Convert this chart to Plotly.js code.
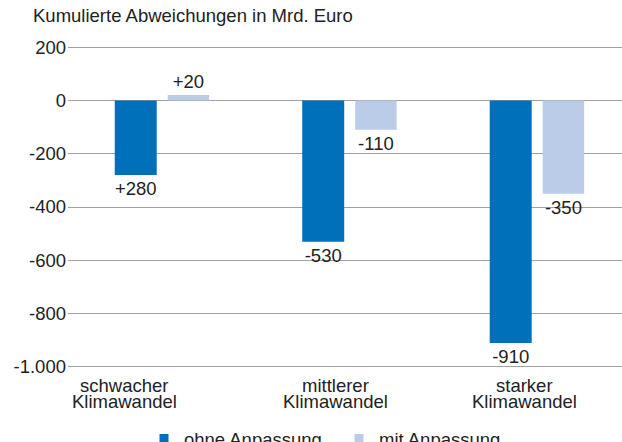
<!DOCTYPE html>
<html>
<head>
<meta charset="utf-8">
<script src="https://cdn.plot.ly/plotly-3.0.1.min.js"></script>
<style>html,body{margin:0;padding:0;background:#fff;}#chart{width:622px;height:442px;}</style>
</head>
<body>
<div id="chart"></div>
<script>
var categoriesLine1 = ['schwacher', 'mittlerer', 'starker'];
var categoriesLine2 = ['Klimawandel', 'Klimawandel', 'Klimawandel'];
var ohneAnpassung = [-280, -530, -910];
var mitAnpassung = [20, -110, -350];
var ohneLabels = ['+280', '-530', '-910'];
var mitLabels = ['+20', '-110', '-350'];
var tickValues = [200, 0, -200, -400, -600, -800, -1000];
var tickLabels = ['200', '0', '-200', '-400', '-600', '-800', '-1.000'];

var FONT = 'Liberation Sans, Arial, Helvetica, sans-serif';
var FS = 18.5;
var darkBlue = '#0070bb';
var lightBlue = '#bacce8';
var labelFont = {family: FONT, size: FS, color: '#222'};

var idx = categoriesLine1.map(function(c, i){ return i; });
// horizontal shift of category labels relative to the bar groups (layout style)
var labelShift = [-0.2, -0.072, -0.066];

var data = [
  {type: 'bar', x: idx, y: ohneAnpassung, text: ohneLabels, textposition: 'outside',
   textfont: labelFont, marker: {color: darkBlue}, width: 0.224, offset: -0.2507,
   showlegend: false, cliponaxis: false, hoverinfo: 'none'},
  {type: 'bar', x: idx, y: mitAnpassung, text: mitLabels, textposition: 'outside',
   textfont: labelFont, marker: {color: lightBlue}, width: 0.221, offset: 0.032,
   showlegend: false, cliponaxis: false, hoverinfo: 'none'},
  {type: 'scatter', mode: 'markers', x: [null], y: [null], name: 'ohne Anpassung',
   marker: {symbol: 'square', size: 9, color: darkBlue}},
  {type: 'scatter', mode: 'markers', x: [null], y: [null], name: 'mit Anpassung',
   marker: {symbol: 'square', size: 9, color: lightBlue}}
];

var annotations = [];
idx.forEach(function(i){
  annotations.push({x: i + labelShift[i], xref: 'x', y: -0.053, yref: 'paper', yanchor: 'middle',
    xanchor: 'center', text: categoriesLine1[i], showarrow: false, font: labelFont});
  annotations.push({x: i + labelShift[i], xref: 'x', y: -0.105, yref: 'paper', yanchor: 'middle',
    xanchor: 'center', text: categoriesLine2[i], showarrow: false, font: labelFont});
});

var layout = {
  width: 622, height: 442,
  margin: {l: 68, r: 0, t: 46, b: 74},
  paper_bgcolor: '#fff', plot_bgcolor: '#fff',
  barmode: 'overlay',
  font: {family: FONT, color: '#222'},
  title: {text: 'Kumulierte Abweichungen in Mrd. Euro', x: 33/622, xref: 'container', xanchor: 'left',
          y: 1 - 9/442, yref: 'container', yanchor: 'top',
          font: {size: FS, color: '#222', family: FONT}},
  xaxis: {range: [-0.5, 2.455], showticklabels: false, showgrid: false,
          zeroline: false, showline: false, ticks: '', fixedrange: true},
  yaxis: {range: [-1004, 204], tickvals: tickValues, ticktext: tickLabels, showgrid: true,
          gridcolor: '#a0a0a0', gridwidth: 1, zeroline: false, showline: false, ticks: '',
          fixedrange: true, tickfont: labelFont, ticklabelstandoff: 1},
  legend: {orientation: 'h', xref: 'container', yref: 'container', x: 144/622, xanchor: 'left',
           y: 1 - 420/442, yanchor: 'top', font: {size: FS, color: '#222', family: FONT},
           itemwidth: 30, tracegroupgap: 0, entrywidth: 150},
  annotations: annotations
};

Plotly.newPlot('chart', data, layout, {displayModeBar: false, staticPlot: true});
</script>
</body>
</html>
